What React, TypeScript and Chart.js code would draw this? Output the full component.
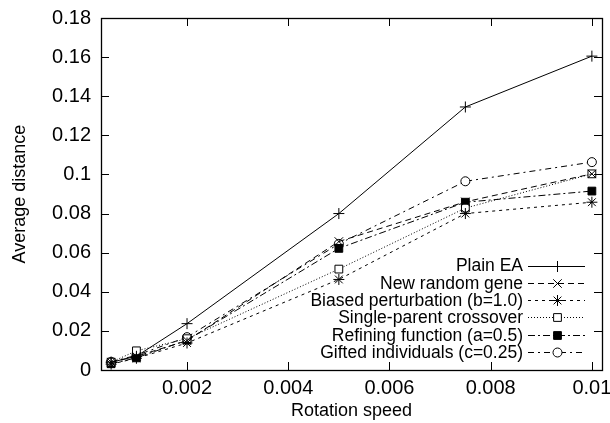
import React, { useEffect, useRef } from 'react';
import { Chart, registerables } from 'chart.js';
import { drawPoint } from 'chart.js/helpers';

Chart.register(...registerables);

const xValues = [0.0005, 0.001, 0.002, 0.005, 0.0075, 0.01];
const plainEA = [0.004, 0.007, 0.0237, 0.08, 0.1345, 0.1605];
const newRandomGene = [0.004, 0.007, 0.015, 0.0657, 0.086, 0.1003];
const biasedPerturbation = [0.003, 0.006, 0.0138, 0.0463, 0.08, 0.0858];
const singleParent = [0.004, 0.0098, 0.016, 0.0516, 0.0828, 0.1003];
const refining = [0.0032, 0.0062, 0.0153, 0.0622, 0.0858, 0.0915];
const gifted = [0.0042, 0.0075, 0.0168, 0.0645, 0.0965, 0.1063];

const seriesLabels = [
  'Plain EA',
  'New random gene',
  'Biased perturbation (b=1.0)',
  'Single-parent crossover',
  'Refining function (a=0.5)',
  'Gifted individuals (c=0.25)',
];
const xTicks = [0.002, 0.004, 0.006, 0.008, 0.01];
const yTicks = [0, 0.02, 0.04, 0.06, 0.08, 0.1, 0.12, 0.14, 0.16, 0.18];
const xTickLabels = ['0.002', '0.004', '0.006', '0.008', '0.01'];
const yTickLabels = ['0', '0.02', '0.04', '0.06', '0.08', '0.1', '0.12', '0.14', '0.16', '0.18'];

const FONT = '"Liberation Sans", Arial, Helvetica, sans-serif';

const styles = [
  { dash: [], point: 'cross', radius: 5.5, fill: '#000' },
  { dash: [6, 4], point: 'crossRot', radius: 6, fill: '#000' },
  { dash: [3, 4], point: 'star', radius: 5.5, fill: '#000' },
  { dash: [1, 2], point: 'rect', radius: 5.5, fill: '#fff' },
  { dash: [7, 3, 2, 3], point: 'rect', radius: 5.5, fill: '#000' },
  { dash: [6, 4, 2, 4], point: 'circle', radius: 4.5, fill: '#fff' },
];

const allSeries = [plainEA, newRandomGene, biasedPerturbation, singleParent, refining, gifted];

const framePlugin = {
  id: 'gnuFrame',
  afterDraw(chart: any) {
    const { ctx, chartArea } = chart;
    const { left, right, top, bottom } = chartArea;
    const xs = chart.scales.x;
    const ys = chart.scales.y;
    ctx.save();
    ctx.strokeStyle = '#000';
    ctx.lineWidth = 1;
    ctx.setLineDash([]);
    ctx.beginPath();
    const tl = 8;
    xTicks.forEach((v) => {
      const px = Math.round(xs.getPixelForValue(v)) + 0.5;
      ctx.moveTo(px, bottom);
      ctx.lineTo(px, bottom - tl);
      ctx.moveTo(px, top);
      ctx.lineTo(px, top + tl);
    });
    yTicks.forEach((v) => {
      const py = Math.round(ys.getPixelForValue(v)) + 0.5;
      ctx.moveTo(left, py);
      ctx.lineTo(left + tl, py);
      ctx.moveTo(right, py);
      ctx.lineTo(right - tl, py);
    });
    ctx.stroke();
    ctx.lineWidth = 1.3;
    ctx.strokeRect(Math.round(left) + 0.5, Math.round(top) + 0.5, Math.round(right - left), Math.round(bottom - top));

    // legend (gnuplot style, inside bottom-right)
    const n = chart.data.datasets.length;
    ctx.font = `17.5px ${FONT}`;
    ctx.textAlign = 'right';
    ctx.textBaseline = 'middle';
    ctx.fillStyle = '#000';
    chart.data.datasets.forEach((ds: any, i: number) => {
      const y = bottom - 18 - (n - 1 - i) * 17.3;
      ctx.setLineDash([]);
      ctx.fillText(ds.label, right - 79, y + 1);
      ctx.lineWidth = 1;
      ctx.setLineDash(ds.borderDash || []);
      ctx.beginPath();
      ctx.moveTo(right - 74, Math.round(y) + 0.5);
      ctx.lineTo(right - 17, Math.round(y) + 0.5);
      ctx.stroke();
      ctx.setLineDash([]);
      ctx.fillStyle = ds.pointBackgroundColor;
      ctx.strokeStyle = '#000';
      drawPoint(ctx, { pointStyle: ds.pointStyle, radius: ds.pointRadius, rotation: 0, borderWidth: 1 }, right - 44.5, Math.round(y) + 0.5);
      ctx.fillStyle = '#000';
    });
    ctx.restore();
  },
};

export default function App() {
  const ref = useRef<HTMLCanvasElement>(null);
  useEffect(() => {
    if (!ref.current) return;
    const datasets = allSeries.map((vals, i) => ({
      label: seriesLabels[i],
      data: vals.map((v, j) => ({ x: xValues[j], y: v })),
      borderColor: '#000',
      borderWidth: 1,
      borderDash: styles[i].dash,
      pointStyle: styles[i].point,
      pointRadius: styles[i].radius,
      pointBorderColor: '#000',
      pointBackgroundColor: styles[i].fill,
      pointBorderWidth: 1,
      showLine: true,
      fill: false,
      tension: 0,
    }));
    const chart = new Chart(ref.current, {
      type: 'scatter',
      data: { datasets },
      options: {
        responsive: false,
        animation: false,
        layout: { padding: { top: 18, right: 8, left: 0, bottom: 0 } },
        plugins: { legend: { display: false }, tooltip: { enabled: false } },
        scales: {
          x: {
            type: 'linear',
            min: 0.0003,
            max: 0.0102,
            grid: { display: false, drawTicks: false },
            border: { display: false },
            afterBuildTicks: (s: any) => {
              s.ticks = xTicks.map((v) => ({ value: v }));
            },
            afterFit: (s: any) => {
              s.height = 53;
              s.paddingLeft = 0;
              s.paddingRight = 0;
            },
            ticks: {
              color: '#000',
              font: { family: FONT, size: 20 },
              padding: 6,
              maxRotation: 0,
              autoSkip: false,
              callback: (v: any) => {
                const k = xTicks.findIndex((t) => Math.abs(t - v) < 1e-9);
                return k >= 0 ? xTickLabels[k] : '';
              },
            },
            title: {
              display: true,
              text: 'Rotation speed',
              color: '#000',
              font: { family: FONT, size: 18 },
              padding: { top: 0, bottom: 1 },
            },
          },
          y: {
            type: 'linear',
            min: 0,
            max: 0.18,
            grid: { display: false, drawTicks: false },
            border: { display: false },
            afterBuildTicks: (s: any) => {
              s.ticks = yTicks.map((v) => ({ value: v }));
            },
            afterFit: (s: any) => {
              s.width = 101;
              s.paddingTop = 0;
              s.paddingBottom = 0;
            },
            ticks: {
              color: '#000',
              font: { family: FONT, size: 20 },
              padding: 10,
              autoSkip: false,
              callback: (v: any) => {
                const k = yTicks.findIndex((t) => Math.abs(t - v) < 1e-9);
                return k >= 0 ? yTickLabels[k] : '';
              },
            },
            title: {
              display: true,
              text: 'Average distance',
              color: '#000',
              font: { family: FONT, size: 18 },
              padding: { top: 9, bottom: 0 },
            },
          },
        },
      },
      plugins: [framePlugin],
    } as any);
    return () => chart.destroy();
  }, []);
  return (
    <div style={{ position: 'absolute', left: 0, top: 0, width: 610, height: 423, background: '#fff' }}>
      <canvas ref={ref} width={610} height={423} style={{ display: 'block' }} />
    </div>
  );
}
